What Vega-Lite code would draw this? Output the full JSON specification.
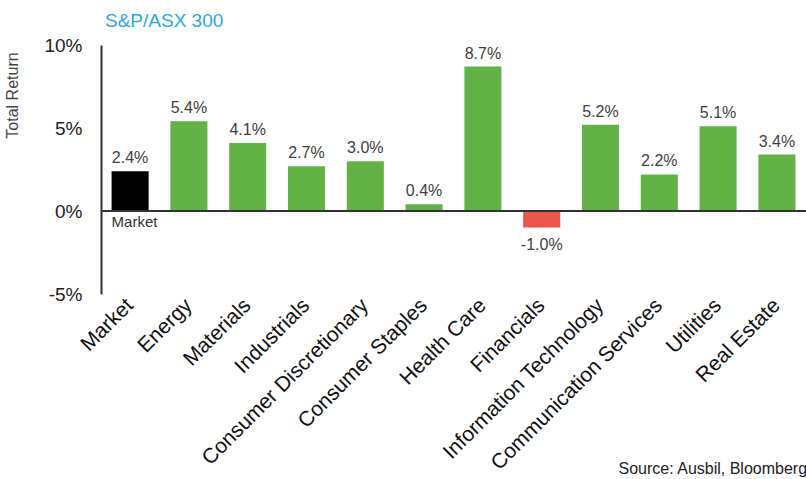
{
  "$schema": "https://vega.github.io/schema/vega-lite/v6.json",
  "width": 705,
  "height": 249,
  "autosize": {"type": "none"},
  "padding": {"left": 101, "top": 45, "right": 0, "bottom": 185},
  "background": "white",
  "config": {"view": {"stroke": null}, "font": "Liberation Sans"},
  "title": {"text": "S&P/ASX 300", "anchor": "start", "frame": "group", "color": "#2aa9e0", "fontSize": 19, "fontWeight": "normal", "font": "Liberation Sans", "dx": 4, "offset": 5},
  "data": {"values": [
    {"sector": "Market", "ret": 2.4, "label": "2.4%", "kind": "Market"},
    {"sector": "Energy", "ret": 5.4, "label": "5.4%", "kind": "Up"},
    {"sector": "Materials", "ret": 4.1, "label": "4.1%", "kind": "Up"},
    {"sector": "Industrials", "ret": 2.7, "label": "2.7%", "kind": "Up"},
    {"sector": "Consumer Discretionary", "ret": 3.0, "label": "3.0%", "kind": "Up"},
    {"sector": "Consumer Staples", "ret": 0.4, "label": "0.4%", "kind": "Up"},
    {"sector": "Health Care", "ret": 8.7, "label": "8.7%", "kind": "Up"},
    {"sector": "Financials", "ret": -1.0, "label": "-1.0%", "kind": "Down"},
    {"sector": "Information Technology", "ret": 5.2, "label": "5.2%", "kind": "Up"},
    {"sector": "Communication Services", "ret": 2.2, "label": "2.2%", "kind": "Up"},
    {"sector": "Utilities", "ret": 5.1, "label": "5.1%", "kind": "Up"},
    {"sector": "Real Estate", "ret": 3.4, "label": "3.4%", "kind": "Up"}
  ]},
  "encoding": {
    "x": {
      "field": "sector", "type": "nominal", "sort": null,
      "scale": {"paddingInner": 0.37, "paddingOuter": 0.18},
      "axis": {
        "orient": "bottom", "labelAngle": -45, "labelAlign": "right", "labelBaseline": "middle",
        "domain": false, "ticks": false, "labelFontSize": 21, "labelColor": "#111111", "labelPadding": 8,
        "labelFont": "Liberation Sans", "labelLimit": 0, "labelOverlap": false,
        "title": "Source: Ausbil, Bloomberg", "titleX": 517, "titleY": 179, "titleAlign": "left",
        "titleBaseline": "alphabetic", "titleFontSize": 16, "titleFontWeight": "normal", "titleColor": "#222222",
        "titleFont": "Liberation Sans"
      }
    },
    "y": {
      "field": "ret", "type": "quantitative",
      "scale": {"domain": [-5, 10], "nice": false, "zero": false},
      "axis": {
        "values": [-5, 0, 5, 10], "labelExpr": "datum.value + '%'", "labelFontSize": 19,
        "labelColor": "#222222", "labelPadding": 19, "ticks": false, "grid": false,
        "domainColor": "#333333", "domainWidth": 2, "labelFont": "Liberation Sans",
        "title": "Total Return", "titleFontSize": 16, "titleFontWeight": "normal", "titleColor": "#444444",
        "titleX": -81, "titleY": 50, "titleFont": "Liberation Sans"
      }
    }
  },
  "layer": [
    {
      "mark": {"type": "bar"},
      "encoding": {
        "color": {"field": "kind", "type": "nominal", "scale": {"domain": ["Market", "Up", "Down"], "range": ["#000000", "#63b246", "#e8574a"]}, "legend": null}
      }
    },
    {
      "mark": {"type": "rule", "color": "#333333", "strokeWidth": 2},
      "encoding": {"y": {"datum": 0}, "x": null}
    },
    {
      "transform": [{"filter": "datum.ret >= 0"}],
      "mark": {"type": "text", "baseline": "alphabetic", "dy": -8, "fontSize": 16, "color": "#404040", "font": "Liberation Sans"},
      "encoding": {"text": {"field": "label"}}
    },
    {
      "transform": [{"filter": "datum.ret < 0"}],
      "mark": {"type": "text", "baseline": "top", "dy": 9, "fontSize": 16, "color": "#404040", "font": "Liberation Sans"},
      "encoding": {"text": {"field": "label"}}
    },
    {
      "transform": [{"filter": "datum.sector == 'Market'"}],
      "mark": {"type": "text", "baseline": "top", "align": "left", "dy": 4, "fontSize": 15, "color": "#333333", "font": "Liberation Sans"},
      "encoding": {
        "x": {"field": "sector", "type": "nominal", "sort": null, "bandPosition": 0},
        "y": {"datum": 0},
        "text": {"value": "Market"}
      }
    }
  ]
}
